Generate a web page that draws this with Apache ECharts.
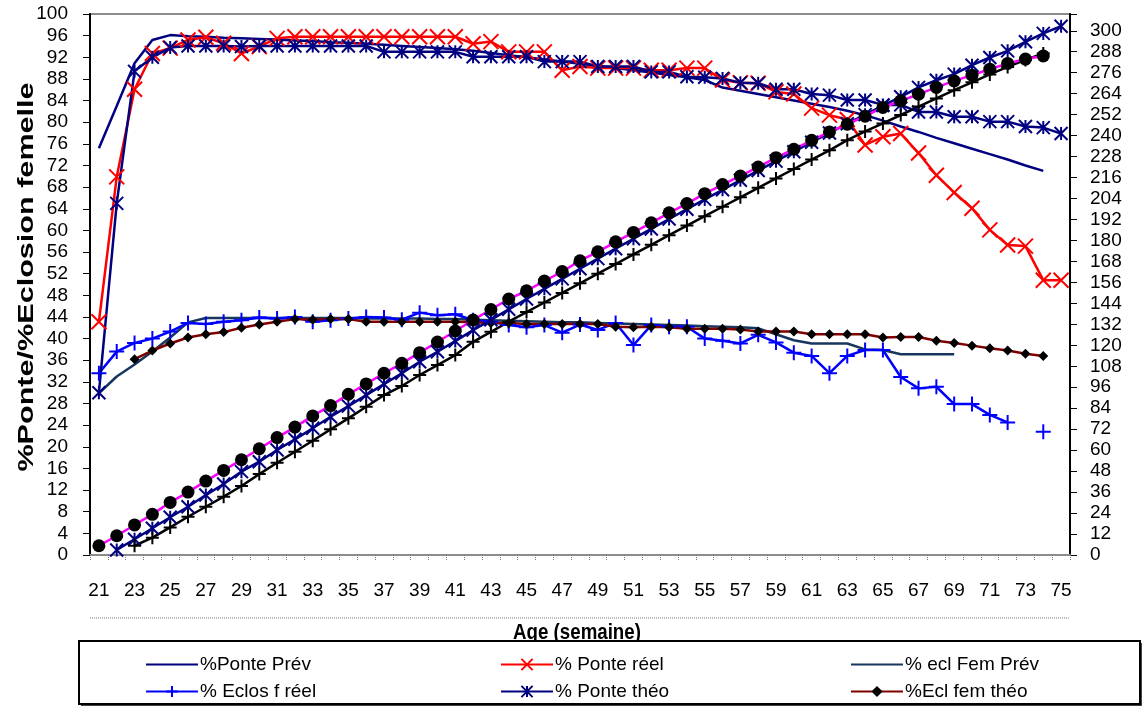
<!DOCTYPE html>
<html><head><meta charset="utf-8">
<script src="https://cdn.jsdelivr.net/npm/echarts@6/dist/echarts.min.js"></script>
<style>html,body{margin:0;padding:0;background:#fff}#c{width:1146px;height:711px}</style>
</head><body><div id="c"></div>
<script>
// Age (weeks)
const weeks = ['21','22','23','24','25','26','27','28','29','30','31','32','33','34','35','36','37','38','39','40','41','42','43','44','45','46','47','48','49','50','51','52','53','54','55','56','57','58','59','60','61','62','63','64','65','66','67','68','69','70','71','72','73','74','75'];

// Left axis series (%)
const pontePrev = [75.2,83.0,90.9,95.2,96.1,95.9,95.8,95.6,95.5,95.4, 95.3,95.1,95.0,94.8,94.7,94.5,94.3,94.1,93.9,93.7, 93.5,93.2,92.8,92.4,92.0,91.6,91.2,90.8,90.4,90.0, 89.6,89.2,88.7,88.3,87.8,86.4,85.8,85.2,84.6,84.0, 83.4,82.8,82.1,81.3,80.3,79.2,78.2,77.1,76.1,75.1, 74.1,73.1,72.0,71.0,null];
const ponteReel = [43.1,69.9,86.1,92.7,93.7,95.2,95.7,94.6,92.7,94.0, 95.5,95.8,95.8,95.8,95.8,95.8,95.8,95.8,95.8,95.8, 95.8,94.5,94.9,93.0,93.0,93.0,89.6,90.3,90.0,90.0, 90.0,89.6,89.6,90.0,90.0,87.8,87.3,87.2,85.6,85.2, 82.6,81.3,80.5,75.8,77.3,77.9,74.3,70.2,67.0,64.1, 60.1,57.3,57.1,50.8,50.8];
const eclFemPrev = [29.9,33.0,35.2,37.6,40.2,43.0,43.8,43.8,43.8,43.8, 43.8,43.8,43.8,43.8,43.8,43.7,43.7,43.7,43.7,43.6, 43.6,43.5,43.4,43.3,43.2,43.1,43.0,43.0,42.9,42.8, 42.7,42.6,42.5,42.4,42.3,42.2,42.1,41.9,40.8,39.7, 39.1,39.1,39.1,38.0,37.9,37.1,37.1,37.1,37.1,null, null,null,null,null,null];
const eclosReel = [33.6,37.6,39.2,40.0,41.3,42.9,42.7,43.1,43.4,43.9, 43.7,44.0,43.1,43.4,43.7,44.0,43.9,43.5,44.8,44.3, 44.5,43.4,43.1,42.5,42.1,42.5,41.1,42.6,41.6,42.9, 38.8,42.5,42.2,42.2,40.0,39.6,39.1,40.7,39.3,37.4, 36.8,33.6,36.8,37.9,37.9,32.9,30.8,31.1,27.9,27.9, 25.9,24.5,null,22.8,null];
const ponteTheo = [30.0,65.0,89.4,92.0,93.8,94.1,94.1,94.1,94.0,94.1, 94.1,94.1,94.1,94.1,94.1,94.1,93.0,93.0,93.0,93.0, 93.0,92.1,92.1,92.1,92.1,91.2,91.2,91.2,90.3,90.3, 90.3,89.3,89.3,88.4,88.3,88.1,87.3,87.2,86.1,86.1, 85.2,85.0,84.1,84.1,83.2,83.2,81.9,81.9,81.0,81.0, 80.1,80.1,79.2,79.0,77.9];
const eclFemTheo = [null,null,36.2,37.8,39.1,40.2,40.8,41.2,42.0,42.6, 43.1,43.6,43.5,43.6,43.6,43.1,43.1,43.1,43.1,43.1, 43.1,43.0,42.9,42.9,42.7,42.7,42.7,42.7,42.7,42.2, 42.1,42.2,42.1,41.8,41.8,41.8,41.7,41.3,41.3,41.3, 40.8,40.8,40.8,40.8,40.2,40.3,40.3,39.6,39.2,38.7, 38.2,37.8,37.2,36.8,null];

// Right axis series (cumulative eggs)
const cumulCircles = [5.3,11.0,17.2,23.3,30.1,36.0,42.3,48.4,54.5,60.8, 67.2,73.2,79.6,85.5,92.0,97.9,104.0,109.7,115.8,121.9, 128.2,134.5,140.5,146.5,151.2,156.8,162.2,168.4,173.5,179.2, 184.6,190.1,195.8,201.1,206.8,212.0,216.9,222.0,227.4,232.2, 237.3,242.1,246.5,251.1,256.1,259.9,263.7,267.6,271.3,274.6, 278.0,281.3,283.8,285.6,null];
const cumulTheo = [null,2.9,9.0,15.3,21.6,27.6,34.3,40.6,47.7,53.4, 60.1,66.2,72.5,79.1,85.2,91.5,97.8,104.0,110.6,116.3, 122.4,128.7,134.6,140.6,146.5,152.3,158.0,163.8,169.6,175.3, 181.0,186.6,192.3,197.9,203.5,209.0,214.5,220.0,225.4,230.8, 236.2,241.5,246.8,252.0,257.2,262.2,267.6,271.7,275.2,280.3, 284.7,288.5,293.7,298.5,302.6];
const cumulReel = [null,null,5.3,9.9,15.8,21.9,27.6,33.4,39.5,46.3, 52.8,59.1,65.4,71.9,78.2,84.8,91.5,96.7,103.0,108.7, 114.4,122.0,127.7,133.5,139.0,144.5,150.0,155.5,161.0,166.5, 172.0,177.5,183.0,188.5,193.9,199.3,204.7,210.1,215.5,220.9, 226.3,231.6,237.4,242.4,247.0,251.8,256.6,261.3,266.0,270.5, 275.0,279.3,283.3,287.0,null];

const leftTicks = {min: 0, max: 100, interval: 4};
const rightTicks = {min: 0, max: 309.6, interval: 12};

const X_PATH = 'path://M0,0L10,10M10,0L0,10';
const PLUS_PATH = 'path://M5,0L5,10M0,5L10,5';
const STAR_PATH = 'path://M0,0L10,10M10,0L0,10M5,0L5,10';

const FONT = 'Liberation Sans, Arial, sans-serif';

function lineSeries(name, data, color, opts) {
  const hasSym = !!opts.symbol;
  let itemStyle;
  if (!hasSym) itemStyle = {color: 'rgba(0,0,0,0)', borderWidth: 0};
  else if (opts.filled) itemStyle = {color: opts.markColor || color, borderWidth: 0};
  else itemStyle = {color: 'rgba(0,0,0,0)', borderColor: opts.markColor || color, borderWidth: 2};
  return {
    name: name, type: 'line', data: data,
    yAxisIndex: opts.axis || 0,
    showSymbol: hasSym,
    showAllSymbol: true,
    symbol: opts.symbol || 'circle',
    symbolSize: opts.size || 10,
    connectNulls: false,
    lineStyle: {color: color, width: opts.width || 2.5},
    itemStyle: itemStyle,
    emphasis: {disabled: true},
    z: 2
  };
}

const chart = echarts.init(document.getElementById('c'), null, {renderer: 'canvas'});
const axisLabelStyle = {color: '#000', fontSize: 19, fontFamily: FONT};
const legendText = {fontSize: 19, fontFamily: FONT, color: '#000', padding: [0,0,0,-3]};

chart.setOption({
  animation: false,
  backgroundColor: '#fff',
  grid: {left: 90, right: 76, top: 14, bottom: 156, show: true, borderColor: '#8c8c8c', borderWidth: 2, backgroundColor: 'transparent'},
  xAxis: {
    type: 'category', data: weeks, boundaryGap: true,
    axisLine: {lineStyle: {color: '#8c8c8c', width: 2}},
    axisTick: {show: true, interval: 0, length: 6, lineStyle: {color: '#777', type: 'dotted'}},
    axisLabel: Object.assign({interval: 1, margin: 26}, axisLabelStyle),
    splitLine: {show: false}
  },
  yAxis: [
    {type: 'value', position: 'left', min: leftTicks.min, max: leftTicks.max, interval: leftTicks.interval,
     axisLine: {show: true, lineStyle: {color: '#000', width: 2}},
     axisTick: {show: true, length: 7, lineStyle: {color: '#000'}},
     axisLabel: Object.assign({margin: 22}, axisLabelStyle),
     splitLine: {show: false}},
    {type: 'value', position: 'right', min: rightTicks.min, max: rightTicks.max, interval: rightTicks.interval,
     axisLine: {show: true, lineStyle: {color: '#000', width: 2}},
     axisTick: {show: true, length: 7, lineStyle: {color: '#000'}},
     axisLabel: Object.assign({margin: 20, formatter: v => (Math.abs(v % 12) < 1e-6 ? String(v) : '')}, axisLabelStyle),
     splitLine: {show: false}}
  ],
  legend: [
    {left: 140, top: 650, orient: 'vertical', itemWidth: 52, itemHeight: 14, itemGap: 8,
     textStyle: legendText, data: ['%Ponte Prév', '% Eclos f réel'], z: 10},
    {left: 495, top: 650, orient: 'vertical', itemWidth: 52, itemHeight: 14, itemGap: 8,
     textStyle: legendText, data: ['% Ponte réel', '% Ponte théo'], z: 10},
    {left: 845, top: 650, orient: 'vertical', itemWidth: 52, itemHeight: 14, itemGap: 8,
     textStyle: legendText, data: ['% ecl Fem Prév', '%Ecl fem théo'], z: 10}
  ],
  graphic: {elements: [
    {type: 'text', x: 27, y: 277, rotation: Math.PI / 2, scaleX: 1.39, z: 0,
     style: {text: '%Ponte/%Eclosion femelle', font: 'bold 22px ' + FONT, fill: '#000', textAlign: 'center', textVerticalAlign: 'middle'}},
    {type: 'line', z: 0, shape: {x1: 90, y1: 618, x2: 1070, y2: 618}, style: {stroke: '#777', lineWidth: 1, lineDash: [1, 1]}},
    {type: 'text', x: 577, y: 633, scaleX: 0.85, z: 0,
     style: {text: 'Age (semaine)', font: 'bold 22px ' + FONT, fill: '#000', textAlign: 'center', textVerticalAlign: 'middle'}},
    {type: 'rect', z: 1, shape: {x: 81, y: 643, width: 1061, height: 63}, style: {fill: '#444', stroke: null}},
    {type: 'rect', z: 1, shape: {x: 79, y: 641, width: 1061, height: 63}, style: {fill: '#fff', stroke: '#000', lineWidth: 2}}
  ]},
  series: [
    lineSeries('%Ponte Prév', pontePrev, '#000080', {}),
    lineSeries('% Ponte réel', ponteReel, '#FF0000', {symbol: X_PATH, size: 15}),
    lineSeries('% ecl Fem Prév', eclFemPrev, '#17365D', {}),
    lineSeries('% Eclos f réel', eclosReel, '#0000FF', {symbol: PLUS_PATH, size: 15}),
    lineSeries('% Ponte théo', ponteTheo, '#000080', {symbol: STAR_PATH, size: 13}),
    lineSeries('%Ecl fem théo', eclFemTheo, '#800000', {symbol: 'diamond', size: 10, filled: true, markColor: '#000'}),
    lineSeries('Cumul théo', cumulTheo, '#000080', {axis: 1, symbol: STAR_PATH, size: 13}),
    lineSeries('Cumul réel', cumulReel, '#000000', {axis: 1, symbol: PLUS_PATH, size: 13}),
    lineSeries('Cumul', cumulCircles, '#FF00FF', {axis: 1, symbol: 'circle', size: 13, filled: true, markColor: '#000'})
  ]
});
</script></body></html>
